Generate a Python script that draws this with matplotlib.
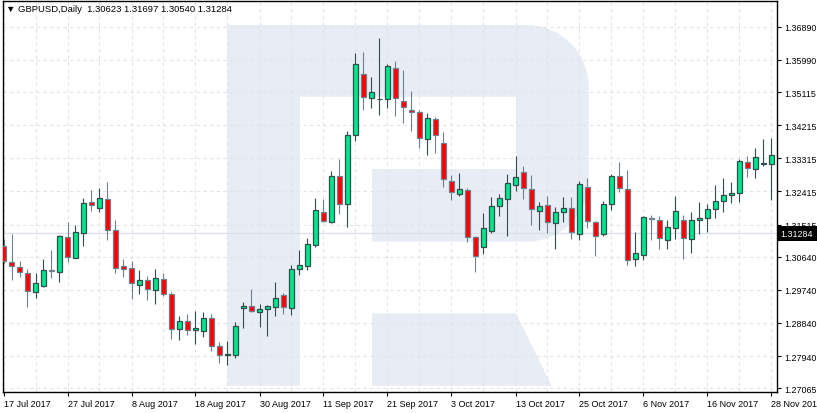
import matplotlib
matplotlib.use('Agg')
import matplotlib.pyplot as plt
import numpy as np
from matplotlib.patches import Polygon, Rectangle

plt.rcParams['font.family'] = ['Liberation Sans', 'DejaVu Sans']

# GBPUSD daily candles, 17 Jul 2017 .. 28 Nov 2017
opens = [1.30941, 1.30488, 1.30352, 1.30189, 1.29673, 1.29854, 1.30270, 1.30216, 1.31167, 1.30615,
         1.31276, 1.32118, 1.31955, 1.32200, 1.31357, 1.30379, 1.30325, 1.29881, 1.29999, 1.29727,
         1.30035, 1.29618, 1.28667, 1.28885, 1.28640, 1.28613, 1.28966, 1.28205, 1.27970, 1.27970,
         1.29238, 1.29292, 1.29129, 1.29211, 1.29265, 1.29591, 1.29238, 1.30298, 1.30397, 1.30968,
         1.31846, 1.31593, 1.32824, 1.32064, 1.33938, 1.35596, 1.34944, 1.34930, 1.34916, 1.35759,
         1.34862, 1.34618, 1.34563, 1.33830, 1.34373, 1.33721, 1.32688, 1.32335, 1.32444, 1.31167,
         1.30895, 1.31348, 1.32009, 1.32199, 1.32580, 1.32933, 1.32471, 1.31873, 1.32036, 1.31547,
         1.31846, 1.31955, 1.31248, 1.32525, 1.31575, 1.31248, 1.32064, 1.32824, 1.32471, 1.30569,
         1.30678, 1.31680, 1.31629, 1.31085, 1.31411, 1.31629, 1.31113, 1.31629, 1.31683, 1.31928,
         1.32145, 1.32308, 1.32363, 1.33205, 1.33015, 1.33150, 1.33150]
highs = [1.31122, 1.31258, 1.30515, 1.30307, 1.30189, 1.30578, 1.30823, 1.31230, 1.31575, 1.31502,
         1.32236, 1.32453, 1.32508, 1.32680, 1.31638, 1.30578, 1.30524, 1.30279, 1.30126, 1.30307,
         1.30198, 1.29673, 1.29039, 1.29084, 1.29156, 1.29129, 1.29084, 1.28332, 1.28350, 1.28876,
         1.29419, 1.29763, 1.29356, 1.29329, 1.29944, 1.29655, 1.30415, 1.30823, 1.31140, 1.32236,
         1.32209, 1.32969, 1.33295, 1.34056, 1.36175, 1.36203, 1.35523, 1.36583, 1.35876, 1.35958,
         1.35714, 1.35143, 1.34627, 1.34554, 1.34445, 1.34029, 1.32860, 1.32915, 1.32508, 1.31212,
         1.31828, 1.32254, 1.32335, 1.32888, 1.33368, 1.33096, 1.32852, 1.32118, 1.32281, 1.31982,
         1.32254, 1.32254, 1.32689, 1.32770, 1.31602, 1.32145, 1.32879, 1.33205, 1.32987, 1.31303,
         1.31747, 1.31774, 1.31737, 1.31638, 1.32281, 1.31765, 1.31846, 1.32118, 1.32064, 1.32580,
         1.32770, 1.32661, 1.33286, 1.33368, 1.33585, 1.33830, 1.33857]
lows = [1.30461, 1.30017, 1.30080, 1.29283, 1.29510, 1.29827, 1.30053, 1.29962, 1.30488, 1.30596,
        1.30941, 1.31892, 1.31864, 1.31104, 1.30207, 1.30098, 1.29492, 1.29627, 1.29473, 1.29356,
        1.29582, 1.28414, 1.28378, 1.28504, 1.28278, 1.28468, 1.28088, 1.27762, 1.27707, 1.27897,
        1.28713, 1.29129, 1.28740, 1.28495, 1.29021, 1.29093, 1.29057, 1.30144, 1.30289, 1.30913,
        1.31575, 1.31566, 1.31810, 1.31457, 1.33793, 1.34636, 1.34672, 1.34500, 1.34690, 1.34473,
        1.34283, 1.34065, 1.33603, 1.33413, 1.33467, 1.32543, 1.32190, 1.32299, 1.31049, 1.30234,
        1.30714, 1.31285, 1.31737, 1.31194, 1.32435, 1.32209, 1.31511, 1.31375, 1.31294, 1.30859,
        1.31575, 1.31113, 1.31085, 1.31430, 1.30669, 1.31194, 1.31901, 1.32390, 1.30406, 1.30379,
        1.30560, 1.31085, 1.30841, 1.30841, 1.31113, 1.30587, 1.30732, 1.31267, 1.31321, 1.31683,
        1.31846, 1.32091, 1.32118, 1.32815, 1.32770, 1.33096, 1.32190]
closes = [1.30515, 1.30379, 1.30216, 1.29700, 1.29917, 1.30279, 1.30261, 1.31194, 1.30624, 1.31303,
          1.32091, 1.32046, 1.32227, 1.31357, 1.30325, 1.30307, 1.29926, 1.30008, 1.29763, 1.30053,
          1.29618, 1.28667, 1.28885, 1.28640, 1.28695, 1.28966, 1.28205, 1.27970, 1.27988, 1.28749,
          1.29301, 1.29165, 1.29211, 1.29292, 1.29519, 1.29265, 1.30298, 1.30406, 1.30977, 1.31901,
          1.31620, 1.32824, 1.32064, 1.33947, 1.35867, 1.34971, 1.35107, 1.34935, 1.35813, 1.34944,
          1.34699, 1.34563, 1.33857, 1.34409, 1.33938, 1.32743, 1.32390, 1.32471, 1.31167, 1.30651,
          1.31411, 1.32009, 1.32227, 1.32634, 1.32797, 1.32498, 1.31928, 1.32009, 1.31575, 1.31846,
          1.31955, 1.31303, 1.32607, 1.31602, 1.31194, 1.32064, 1.32824, 1.32498, 1.30542, 1.30732,
          1.31710, 1.31674, 1.31140, 1.31439, 1.31873, 1.31140, 1.31629, 1.31683, 1.31928, 1.32145,
          1.32308, 1.32363, 1.33232, 1.33042, 1.33341, 1.33178, 1.33395]

date_labels = ['17 Jul 2017', '27 Jul 2017', '8 Aug 2017', '18 Aug 2017', '30 Aug 2017',
               '11 Sep 2017', '21 Sep 2017', '3 Oct 2017', '13 Oct 2017', '25 Oct 2017',
               '6 Nov 2017', '16 Nov 2017', '28 Nov 2017']
price_ticks = [1.27065, 1.27940, 1.28840, 1.29740, 1.30640, 1.31515,
               1.32415, 1.33315, 1.34215, 1.35115, 1.35990, 1.36890]
header_ohlc = [1.30623, 1.31697, 1.30540, 1.31284]
bid_price = 1.31284


def draw_chart():
    W, H = 817, 414
    fig = plt.figure(figsize=(W / 100, H / 100), dpi=100, facecolor='white')
    # plot frame in pixels
    L, R, T, B = 2.7, 776.7, 2.0, 393.3
    ax = fig.add_axes([L / W, 1 - B / H, (R - L) / W, (B - T) / H])

    def px(x, y):
        return ((x - L) / (R - L), (B - y) / (B - T))

    # background "R" watermark
    def arc(cx, cy, r, t0, t1, n=16):
        t = np.radians(np.linspace(t0, t1, n))
        return [(cx + r * np.cos(a), cy - r * np.sin(a)) for a in t]

    outer = [(227.3, 26), (526.7, 26)] + arc(526.7, 88, 62, 90, 0) + \
        arc(526.7, 180.7, 62, 0, -90) + \
        [(372, 242.7), (372, 170), (516, 170), (516, 97.7), (300, 97.7),
         (300, 386.7), (227.3, 386.7)]
    leg = [(372, 314.3), (516, 314.3), (551.7, 386.7), (372, 386.7)]
    for shape in (outer, leg):
        ax.add_patch(Polygon([px(x, y) for x, y in shape], closed=True,
                             transform=ax.transAxes, fc='#E8ECF4', ec='none', zorder=0.1))

    o = np.array(opens)
    h = np.array(highs)
    lo = np.array(lows)
    c = np.array(closes)
    x = np.arange(len(o))
    up = c >= o

    wick_col = np.where(up, '#2F4F4F', '#708090')
    fill_col = np.where(up, '#00E68A', '#FF0000')

    ax.axhline(bid_price, color='#DCE1E9', lw=1.0, zorder=1)
    ax.vlines(x, lo, h, colors=wick_col, lw=0.8, zorder=2)
    body_h = np.maximum(np.abs(c - o), 0.00004)
    ax.bar(x, body_h, bottom=np.minimum(o, c), width=0.56, color=fill_col,
           edgecolor=wick_col, linewidth=0.9, zorder=3)

    ax.set_xlim(-0.1, -0.1 + (R - L) / 8)
    ax.set_ylim(1.269566, 1.375883)

    # axes and grid
    ax.set_xticks(np.arange(0, len(o), 8))
    ax.set_xticklabels(date_labels, ha='left')
    ax.set_xticks(np.arange(0, len(o), 4), minor=True)
    ax.set_yticks(price_ticks)
    ax.set_yticklabels(['%.5f' % v for v in price_ticks])
    ax.yaxis.tick_right()
    ax.tick_params(axis='y', direction='out', length=3, width=0.8, pad=2.5, labelsize=6.4)
    ax.tick_params(axis='x', which='major', direction='out', length=3, width=0.8, pad=2, labelsize=6.5)
    ax.tick_params(axis='x', which='minor', length=0)
    ax.set_axisbelow(True)
    grid_style = dict(color='#E1E3E9', linestyle=(0, (3, 3)), linewidth=0.8)
    ax.grid(True, which='both', axis='x', **grid_style)
    ax.grid(True, which='major', axis='y', **grid_style)
    for s in ax.spines.values():
        s.set_color('black')
        s.set_linewidth(1.0)

    # header and current price box
    fig.text(6 / W, 1 - 10 / H, '\u25bc GBPUSD,Daily  ' + ' '.join('%.5f' % v for v in header_ohlc),
             fontsize=6.8, va='center', ha='left')
    yb = B - (bid_price - 1.269566) / (1.375883 - 1.269566) * (B - T)
    fig.patches.append(Rectangle((778 / W, 1 - (yb + 7.5) / H), 39 / W, 15 / H,
                                 transform=fig.transFigure, fc='black', ec='none', zorder=5))
    fig.text(780 / W, 1 - yb / H, '%.5f' % bid_price, color='white', fontsize=6.4,
             va='center', ha='left', zorder=6)

    fig.savefig('out.png', dpi=100)


if __name__ == "__main__":
    draw_chart()
